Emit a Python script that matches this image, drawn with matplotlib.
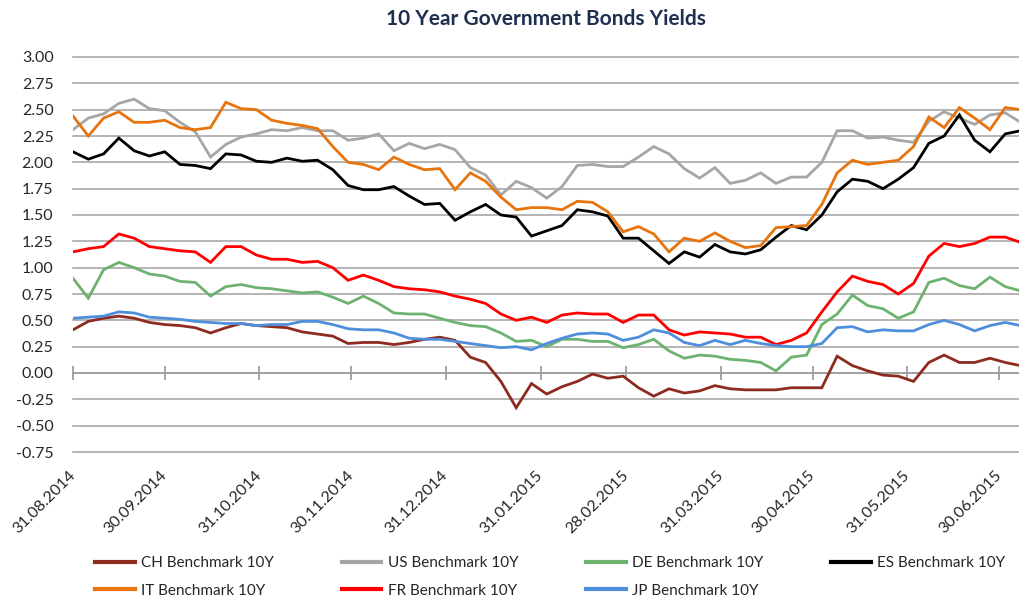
import numpy as np
import pandas as pd
import matplotlib
matplotlib.use('Agg')
import matplotlib.pyplot as plt
import matplotlib.dates as mdates

plt.rcParams['font.family'] = ['Lato', 'DejaVu Sans']

# sampling dates (every 5 days from 31.08.2014)
dates = pd.date_range('2014-08-31', periods=63, freq='5D')

ch = [0.41, 0.49, 0.52, 0.54, 0.52, 0.48, 0.46, 0.45, 0.43, 0.38, 0.43, 0.47, 0.45,
      0.44, 0.43, 0.39, 0.37, 0.35, 0.28, 0.29, 0.29, 0.27, 0.29, 0.32, 0.34, 0.31,
      0.15, 0.10, -0.08, -0.33,
      -0.10, -0.20, -0.13, -0.08, -0.01, -0.05, -0.03, -0.14, -0.22, -0.15, -0.19,
      -0.17, -0.12, -0.15, -0.16,
      -0.16, -0.16, -0.14, -0.14, -0.14, 0.16, 0.07, 0.02, -0.02, -0.03, -0.08,
      0.10, 0.17, 0.10, 0.10, 0.14, 0.10, 0.07]
us = [2.31, 2.42, 2.46, 2.56, 2.60, 2.51, 2.49, 2.38, 2.29, 2.05, 2.17, 2.24, 2.27,
      2.31, 2.30, 2.33, 2.30, 2.30, 2.21, 2.23, 2.27, 2.11, 2.18, 2.13, 2.17, 2.12,
      1.95, 1.88, 1.69, 1.82,
      1.76, 1.66, 1.77, 1.97, 1.98, 1.96, 1.96, 2.05, 2.15, 2.08, 1.94, 1.85, 1.95,
      1.80, 1.83,
      1.90, 1.80, 1.86, 1.86, 2.00, 2.30, 2.30, 2.23, 2.24, 2.21, 2.19, 2.39, 2.48,
      2.42, 2.36, 2.45, 2.47, 2.38]
de = [0.90, 0.71, 0.98, 1.05, 1.00, 0.94, 0.92, 0.87, 0.86, 0.73, 0.82, 0.84, 0.81,
      0.80, 0.78, 0.76, 0.77, 0.72, 0.66, 0.73, 0.66, 0.57, 0.56, 0.56, 0.52, 0.48,
      0.45, 0.44, 0.38, 0.30,
      0.31, 0.25, 0.32, 0.32, 0.30, 0.30, 0.24, 0.27, 0.32, 0.21, 0.14, 0.17, 0.16,
      0.13, 0.12,
      0.10, 0.02, 0.15, 0.17, 0.46, 0.56, 0.74, 0.64, 0.61, 0.52, 0.58, 0.86, 0.90,
      0.83, 0.80, 0.91, 0.82, 0.78]
es = [2.10, 2.03, 2.08, 2.23, 2.11, 2.06, 2.10, 1.98, 1.97, 1.94, 2.08, 2.07, 2.01,
      2.00, 2.04, 2.01, 2.02, 1.93, 1.78, 1.74, 1.74, 1.77, 1.68, 1.60, 1.61, 1.45,
      1.53, 1.60, 1.50, 1.48,
      1.30, 1.35, 1.40, 1.55, 1.53, 1.49, 1.28, 1.28, 1.16, 1.04, 1.15, 1.10, 1.22,
      1.15, 1.13,
      1.17, 1.29, 1.40, 1.36, 1.50, 1.72, 1.84, 1.82, 1.75, 1.84, 1.95, 2.18, 2.25,
      2.45, 2.21, 2.10, 2.27, 2.30]
it = [2.44, 2.25, 2.42, 2.48, 2.38, 2.38, 2.40, 2.33, 2.31, 2.33, 2.57, 2.51, 2.50,
      2.40, 2.37, 2.35, 2.32, 2.15, 2.00, 1.98, 1.93, 2.05, 1.98, 1.93, 1.94, 1.74,
      1.90, 1.82, 1.67, 1.55,
      1.57, 1.57, 1.55, 1.63, 1.62, 1.53, 1.34, 1.39, 1.32, 1.15, 1.28, 1.25, 1.33,
      1.25, 1.19,
      1.21, 1.38, 1.39, 1.40, 1.60, 1.90, 2.02, 1.98, 2.00, 2.02, 2.15, 2.43, 2.33,
      2.52, 2.42, 2.31, 2.52, 2.50]
fr = [1.15, 1.18, 1.20, 1.32, 1.28, 1.20, 1.18, 1.16, 1.15, 1.05, 1.20, 1.20, 1.12,
      1.08, 1.08, 1.05, 1.06, 1.00, 0.88, 0.93, 0.88, 0.82, 0.80, 0.79, 0.77, 0.73,
      0.70, 0.66, 0.56, 0.50,
      0.53, 0.48, 0.55, 0.57, 0.56, 0.56, 0.48, 0.55, 0.55, 0.41, 0.36, 0.39, 0.38,
      0.37, 0.34,
      0.34, 0.27, 0.31, 0.38, 0.58, 0.77, 0.92, 0.87, 0.84, 0.75, 0.85, 1.11, 1.23,
      1.20, 1.23, 1.29, 1.29, 1.24]
jp = [0.52, 0.53, 0.54, 0.58, 0.57, 0.53, 0.52, 0.51, 0.49, 0.48, 0.47, 0.47, 0.45,
      0.46, 0.46, 0.49, 0.49, 0.46, 0.42, 0.41, 0.41, 0.38, 0.33, 0.32, 0.32, 0.30,
      0.28, 0.26, 0.24, 0.25,
      0.22, 0.28, 0.33, 0.37, 0.38, 0.37, 0.31, 0.34, 0.41, 0.38, 0.29, 0.26, 0.31,
      0.27, 0.31,
      0.28, 0.26, 0.25, 0.25, 0.28, 0.43, 0.44, 0.39, 0.41, 0.40, 0.40, 0.46, 0.50,
      0.46, 0.40, 0.45, 0.48, 0.45]

labels = ['CH Benchmark 10Y', 'US Benchmark 10Y', 'DE Benchmark 10Y', 'ES Benchmark 10Y',
          'IT Benchmark 10Y', 'FR Benchmark 10Y', 'JP Benchmark 10Y']
colors = ['#8E2B1F', '#A6A6A6', '#6DB36F', '#000000', '#E8740E', '#FF0000', '#4F8EDC']
series = [ch, us, de, es, it, fr, jp]

month_ends = ['2014-08-31', '2014-09-30', '2014-10-31', '2014-11-30', '2014-12-31',
              '2015-01-31', '2015-02-28', '2015-03-31', '2015-04-30', '2015-05-31',
              '2015-06-30']
yticks = [-0.75, -0.5, -0.25, 0.0, 0.25, 0.5, 0.75, 1.0, 1.25, 1.5, 1.75, 2.0,
          2.25, 2.5, 2.75, 3.0]

fig = plt.figure(figsize=(10.2, 6.03), dpi=100)
ax = fig.add_axes([73 / 1020, 1 - 452 / 603, 946 / 1020, 395 / 603])

handles = []
for vals, lab, col in zip(series, labels, colors):
    h, = ax.plot(dates, vals, color=col, lw=2.0, label=lab, solid_joinstyle='miter')
    handles.append(h)

ax.set_ylim(-0.75, 3.0)
ax.set_xlim(pd.Timestamp('2014-08-31'), pd.Timestamp('2015-07-06 12:00'))
ax.set_yticks(yticks)
ax.set_yticklabels([f'{v:.2f}' for v in yticks])
ax.grid(axis='y', color='#A0A0A0', lw=1.1)
ax.set_axisbelow(True)
for gl in ax.get_ygridlines():
    gl.set_clip_on(False)
for s in ax.spines.values():
    s.set_visible(False)

tick_dates = pd.to_datetime(month_ends)
ax.set_xticks(tick_dates)
ax.set_xticklabels([d.strftime('%d.%m.%Y') for d in tick_dates], rotation=45,
                   ha='right', va='center', rotation_mode='anchor')
ax.tick_params(axis='x', length=0, pad=15, labelsize=11.5, labelcolor='#262626')
ax.tick_params(axis='y', length=0, pad=14, labelsize=11.5, labelcolor='#262626')

# horizontal axis line at zero with month-end ticks
sec = ax.secondary_xaxis(0.75 / 3.75)
sec.set_xticks(tick_dates)
sec.set_xticklabels([])
sec.tick_params(axis='x', direction='inout', length=10, width=1.1, color='#8C8C8C')
sec.spines['bottom'].set_color('#8C8C8C')
sec.spines['bottom'].set_linewidth(1.1)

fig.text(546 / 1020, 1 - 19 / 603, '10 Year Government Bonds Yields', ha='center',
         va='center', fontsize=15, fontweight='bold', color='#1F2F4F')

order = [0, 4, 1, 5, 2, 6, 3]
leg = fig.legend([handles[i] for i in order], [labels[i] for i in order], ncol=4,
                 loc='upper left', bbox_to_anchor=(95 / 1020, 1 - 556 / 603),
                 frameon=False, fontsize=11, handlelength=2.6, handletextpad=0.4,
                 columnspacing=4.45, labelspacing=0.9, borderpad=0, borderaxespad=0)
for t in leg.get_texts():
    t.set_color('#262626')
for l in leg.get_lines():
    l.set_linewidth(3)

fig.savefig('out.png', dpi=100)
